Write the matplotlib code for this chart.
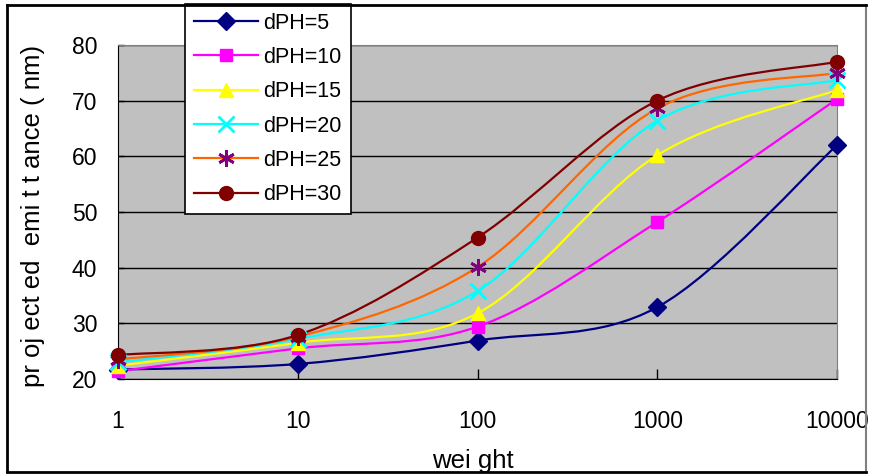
import matplotlib
matplotlib.use("Agg")
import matplotlib.pyplot as plt
from matplotlib.path import Path
from matplotlib.patches import PathPatch, Rectangle
from matplotlib.lines import Line2D
import numpy as np

plt.rcParams['font.family'] = ['Liberation Sans', 'DejaVu Sans']

categories = ["1", "10", "100", "1000", "10000"]
series_labels = ["dPH=5", "dPH=10", "dPH=15", "dPH=20", "dPH=25", "dPH=30"]
dph5 = [21.7, 22.7, 26.9, 32.9, 62.0]
dph10 = [21.4, 25.5, 29.4, 48.2, 70.3]
dph15 = [22.4, 26.5, 31.8, 60.2, 71.9]
dph20 = [23.0, 27.2, 35.8, 66.4, 73.7]
dph25 = [23.5, 27.6, 40.1, 68.6, 75.0]
dph30 = [24.3, 27.9, 45.4, 70.0, 77.0]
yticks = [20, 30, 40, 50, 60, 70, 80]

series = [dph5, dph10, dph15, dph20, dph25, dph30]
line_colors = ["#000080", "#FF00FF", "#FFFF00", "#00FFFF", "#FF6600", "#800000"]
marker_colors = ["#000080", "#FF00FF", "#FFFF00", "#00FFFF", "#800080", "#800000"]
markers = ["D", "s", "^", "x", (6, 2, 0), "o"]
msizes = [9, 9, 10, 11, 12, 10]

W, H = 869, 476
fig = plt.figure(figsize=(W / 100, H / 100), dpi=100)
ax = fig.add_axes([118 / W, 1 - 379 / H, (837 - 118) / W, (379 - 45) / H])
ax.set_facecolor("#C0C0C0")

x = np.arange(len(categories))


def smooth_path(xs, ys):
    pts = np.column_stack([xs, ys]).astype(float)
    n = len(pts)
    verts = [pts[0]]
    codes = [Path.MOVETO]
    for i in range(n - 1):
        p0 = pts[i - 1] if i > 0 else pts[i]
        p1 = pts[i]
        p2 = pts[i + 1]
        p3 = pts[i + 2] if i + 2 < n else pts[i + 1]
        c1 = p1 + (p2 - p0) / 6.0
        c2 = p2 - (p3 - p1) / 6.0
        verts += [c1, c2, p2]
        codes += [Path.CURVE4] * 3
    return Path(verts, codes)


for ys, lc in zip(series, line_colors):
    patch = PathPatch(smooth_path(x, ys), facecolor="none", edgecolor=lc,
                      lw=1.6, zorder=3, transform=ax.transData)
    ax.add_patch(patch)
for ys, mc, mk, ms in zip(series, marker_colors, markers, msizes):
    ax.plot(x, ys, linestyle="none", marker=mk, markersize=ms, color=mc,
            markeredgecolor=mc, markeredgewidth=2 if mk in ("x", (6, 2, 0)) else 1,
            zorder=4, clip_on=False)

ax.set_xlim(0, len(categories) - 1)
ax.set_ylim(20, 80)
ax.set_yticks(yticks)
ax.set_xticks(x)
ax.set_xticklabels(categories)
ax.grid(axis="y", color="black", lw=1)
ax.set_axisbelow(True)
ax.tick_params(axis="x", direction="in", length=7, width=1, pad=22, labelsize=16.5)
ax.tick_params(axis="y", direction="in", length=4, width=1, pad=15, labelsize=16.5)
for s in ["top", "right"]:
    ax.spines[s].set_color("#808080")
for s in ["left", "bottom"]:
    ax.spines[s].set_color("black")

fig.text(33 / W, 1 - 216 / H, "pr oj ect ed  emi t t ance ( nm)", rotation=90,
         ha="center", va="center", fontsize=18.5)
fig.text(473 / W, 1 - 468 / H, "wei ght", ha="center", va="baseline", fontsize=18.5)

handles = []
for lc, mc, mk, ms in zip(line_colors, marker_colors, markers, msizes):
    handles.append(Line2D([], [], color=lc, lw=1.6, marker=mk, markersize=ms,
                          markerfacecolor=mc, markeredgecolor=mc,
                          markeredgewidth=2 if mk in ("x", (6, 2, 0)) else 1))
leg = fig.legend(handles, series_labels, loc="upper left",
                 bbox_to_anchor=(185 / W, 1 - 4 / H), bbox_transform=fig.transFigure,
                 borderaxespad=0, fontsize=15.5, handlelength=3.0, handletextpad=0.25,
                 labelspacing=0.62, borderpad=0.4, frameon=True, fancybox=False,
                 framealpha=1, edgecolor="black")
leg.get_frame().set_linewidth(1.2)
leg.set_zorder(10)

# outer border
fig.add_artist(Line2D([7 / W, 866 / W], [1 - 5 / H, 1 - 5 / H], color="black", lw=2, transform=fig.transFigure, zorder=20))
fig.add_artist(Line2D([7 / W, 7 / W], [1 - 5 / H, 1 - 472 / H], color="black", lw=2, transform=fig.transFigure))
fig.add_artist(Line2D([7 / W, 866 / W], [1 - 472 / H, 1 - 472 / H], color="black", lw=2, transform=fig.transFigure, zorder=20))
fig.add_artist(Line2D([866 / W, 866 / W], [1 - 5 / H, 1 - 472 / H], color="#808080", lw=1.5, transform=fig.transFigure))
fig.add_artist(Rectangle((0, 0), 1, 1 - 473 / H, facecolor="white", edgecolor="none",
                         transform=fig.transFigure, zorder=15))

fig.savefig("out.png", dpi=100)
